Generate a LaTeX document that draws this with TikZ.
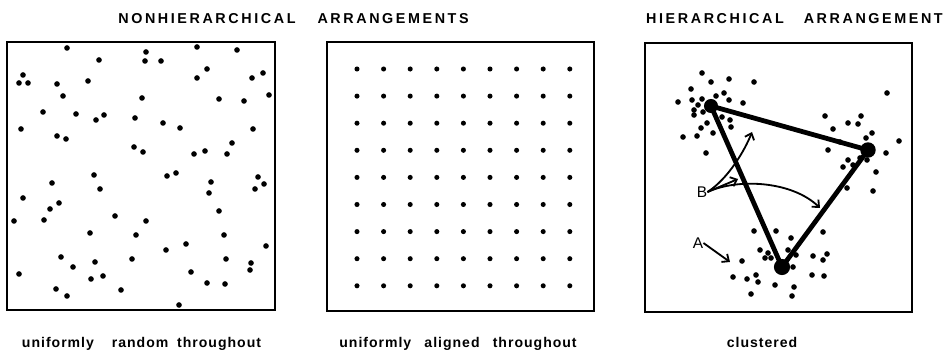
\documentclass[tikz,border=0pt]{standalone}
\usepackage{fontspec}
\newfontfamily\headfont[LetterSpace=18]{Liberation Sans}
\newfontfamily\capfont[LetterSpace=7]{Liberation Sans}
\usetikzlibrary{arrows.meta}

\begin{document}
\begin{tikzpicture}[x=0.025cm,y=-0.025cm,>={Straight Barb[length=4pt,width=7pt]},
  frame/.style={line width=1.5pt},
  link/.style={line width=3.4pt},
  pointer/.style={line width=1.3pt,->},
  head/.style={font=\headfont\bfseries\fontsize{10.2}{12}\selectfont,inner sep=0pt,anchor=base},
  captext/.style={font=\capfont\bfseries\fontsize{10}{12}\selectfont,inner sep=0pt,anchor=base},
  letter/.style={font=\capfont\fontsize{11}{13}\selectfont,inner sep=0pt},
  hub/.style={circle,fill,inner sep=0pt,minimum size=10pt}]
  \useasboundingbox (0,0) rectangle (946,352);

  % headings
  \node[head] (nonhier) at (293.5,23.3) {NONHIERARCHICAL\hspace{0.55cm}ARRANGEMENTS};
  \node[head] (hier) at (794.5,23.3) {HIERARCHICAL\hspace{0.5cm}ARRANGEMENT};

  % the three fields
  \draw[frame] (7,42) rectangle (275,310);
  \draw[frame] (327,42) rectangle (594,311);
  \draw[frame] (645,43) rectangle (912,312);

  % random points
  \foreach \p in {(67,48),(146,52),(197,47),(237,50),(99,60),(145,61),(161,61),(23,75),(19,83),(28,83),
      (57,84),(88,81),(197,78),(207,69),(252,78),(263,73),(63,96),(142,98),(219,99),(244,101),(269,95),
      (43,112),(76,114),(96,120),(104,115),(135,118),(163,123),(180,128),(21,129),(253,129),(57,136),
      (66,139),(134,147),(143,152),(194,154),(205,151),(227,154),(232,143),(94,175),(167,176),(176,173),
      (258,177),(52,183),(100,189),(211,182),(209,193),(255,189),(264,184),(23,198),(50,209),(59,203),
      (14,221),(44,220),(115,216),(146,221),(219,211),(90,233),(136,235),(224,235),(186,244),(266,246),
      (166,250),(61,257),(95,262),(132,259),(226,259),(251,263),(19,274),(73,267),(91,279),(103,276),
      (191,272),(207,283),(225,284),(250,270),(56,289),(67,296),(121,290),(179,305)}
    \fill \p circle (2pt);

  % regular grid
  \foreach \i in {0,...,8}
    \foreach \j in {0,...,8}
      \fill ({357+26.6*\i},{69+27.1*\j}) circle (1.8pt);

  % clusters
  \foreach \p in {(702,73),(711,82),(729,79),(754,82),(691,89),(724,93),(678,102),(692,100),(702,99),
      (716,96),(729,100),(743,103),(698,105),(694,110),(703,112),(694,115),(722,117),(730,120),(731,127),
      (707,123),(701,128),(713,133),(683,137),(697,136),(706,153),
      (825,116),(861,116),(848,123),(858,124),(833,129),(887,93),(899,141),(828,150),(872,133),(866,138),
      (886,153),(848,160),(843,167),(876,172),(847,188),(873,191),(840,142),(860,158),(867,160),(853,165),
      (754,231),(776,231),(791,238),(823,232),(760,250),(768,253),(765,258),(771,258),(788,250),(796,255),
      (813,256),(827,254),(823,260),(742,261),(793,267),(733,277),(747,279),(756,275),(758,282),(775,285),
      (794,287),(812,275),(824,276),(751,294),(792,296)}
    \fill \p circle (2pt);

  \node[hub] (ca) at (711,106) {};
  \node[hub,minimum size=11pt] (cb) at (868,150) {};
  \node[hub,minimum size=11.5pt] (cc) at (782,267) {};
  \draw[link] (ca.center) -- (cb.center) -- (cc.center) -- cycle;

  % labels and pointers
  \node[letter] (labB) at (702,192) {B};
  \node[letter] (labA) at (698,243) {A};
  \coordinate (tipup) at (752,132);
  \coordinate (tipin) at (738,179);
  \coordinate (tipside) at (820,208);
  \coordinate (tipA) at (730,262);
  \draw[pointer] (labB.east) .. controls (728,179) and (745,150) .. (tipup);
  \draw[pointer] (labB.east) -- (tipin);
  \draw[pointer] (labB.east) .. controls (738,178) and (792,181) .. (tipside);
  \draw[pointer] (labA.east) -- (tipA);

  % captions
  \node[captext] (capa) at (141.5,348) {uniformly\hspace{0.45cm}random\hspace{0.22cm}throughout};
  \node[captext] (capb) at (458,348) {uniformly\hspace{0.33cm}aligned\hspace{0.33cm}throughout};
  \node[captext] (capc) at (762,348) {clustered};
\end{tikzpicture}
\end{document}
